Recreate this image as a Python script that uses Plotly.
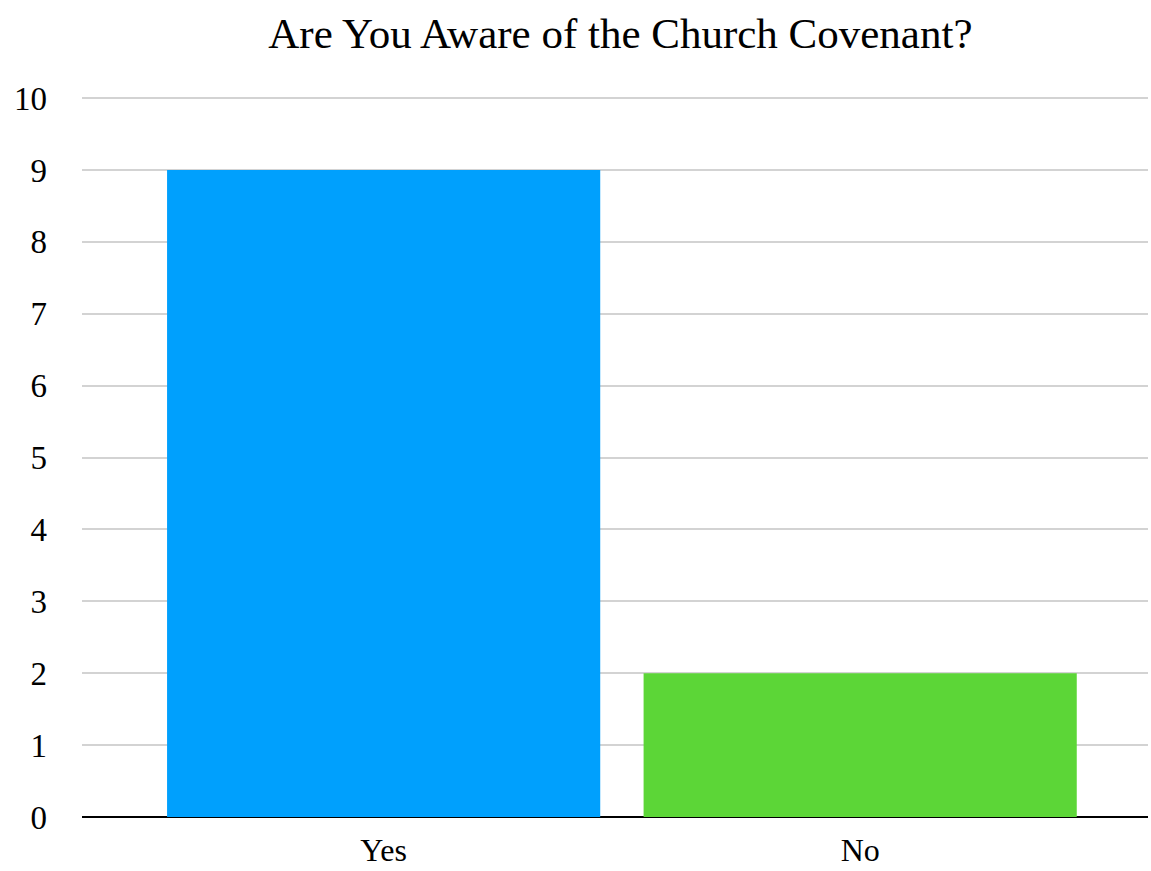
import plotly.graph_objects as go

categories = ["Yes", "No"]
counts = [9, 2]
bar_colors = ["#00A0FD", "#5CD637"]
y_ticks = list(range(0, 11))

fig = go.Figure(
    go.Bar(
        x=categories,
        y=counts,
        marker=dict(color=bar_colors, line=dict(width=0)),
        width=0.909,
    )
)

font_family = "Liberation Serif"

fig.update_layout(
    width=1151,
    height=871,
    margin=dict(l=82, r=3, t=96, b=54, autoexpand=False),
    paper_bgcolor="white",
    plot_bgcolor="white",
    showlegend=False,
    title=dict(
        text="Are You Aware of the Church Covenant?",
        font=dict(family=font_family, size=43, color="black"),
        x=0.539,
        xanchor="center",
        y=0.962,
        yanchor="middle",
    ),
    font=dict(family=font_family, color="black"),
)

fig.update_xaxes(
    type="category",
    range=[-0.633, 1.604],
    automargin=False,
    showgrid=False,
    showline=False,
    ticks="",
    tickfont=dict(family=font_family, size=32, color="black"),
    ticklabelstandoff=11,
)

fig.update_yaxes(
    range=[0, 10.03],
    automargin=False,
    tickvals=y_ticks,
    showgrid=True,
    gridcolor="#D3D3D3",
    gridwidth=1.5,
    zeroline=True,
    zerolinecolor="black",
    zerolinewidth=2,
    showline=False,
    ticks="",
    tickfont=dict(family=font_family, size=33, color="black"),
    ticklabelstandoff=34,
)

fig.write_html("out.html")
